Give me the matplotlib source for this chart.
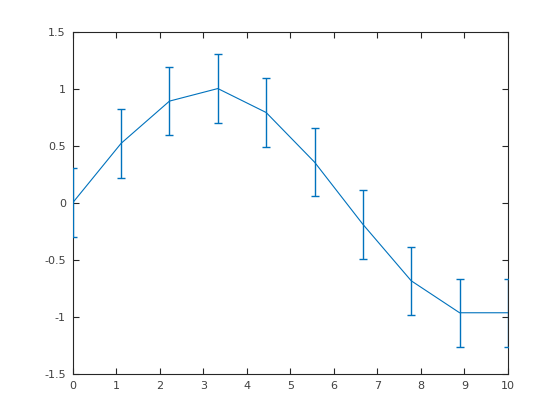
import numpy as np
import matplotlib.pyplot as plt

x = [0, 1.111, 2.222, 3.333, 4.444, 5.556, 6.667, 7.778, 8.889, 10]
y = [0, 0.52, 0.89, 1.0, 0.79, 0.355, -0.19, -0.685, -0.965, -0.965]
err = [0.3, 0.3, 0.3, 0.3, 0.3, 0.3, 0.3, 0.3, 0.3, 0.3]

xticks = [0, 1, 2, 3, 4, 5, 6, 7, 8, 9, 10]
yticks = [-1.5, -1, -0.5, 0, 0.5, 1, 1.5]
ylabels = ['-1.5', '-1', '-0.5', '0', '0.5', '1', '1.5']

plt.rcParams['font.family'] = ['DejaVu Sans']
fig = plt.figure(figsize=(5.6, 4.2), dpi=100)
ax = fig.add_axes([0.13, 0.11, 0.777, 0.815])

ax.errorbar(x, y, yerr=err, color='#0072BD', linewidth=0.8, elinewidth=1.0,
            capsize=3, capthick=1.0, zorder=3)

ax.set_xlim(0, 10)
ax.set_ylim(-1.5, 1.5)
ax.set_xticks(xticks)
ax.set_yticks(yticks)
ax.set_yticklabels(ylabels)
ax.tick_params(direction='in', top=True, right=True, length=4, width=0.8,
               labelsize=8, pad=5, color='#262626', labelcolor='#404040')
for s in ax.spines.values():
    s.set_color('#262626')
    s.set_linewidth(0.8)

fig.savefig('out.png', dpi=100)
